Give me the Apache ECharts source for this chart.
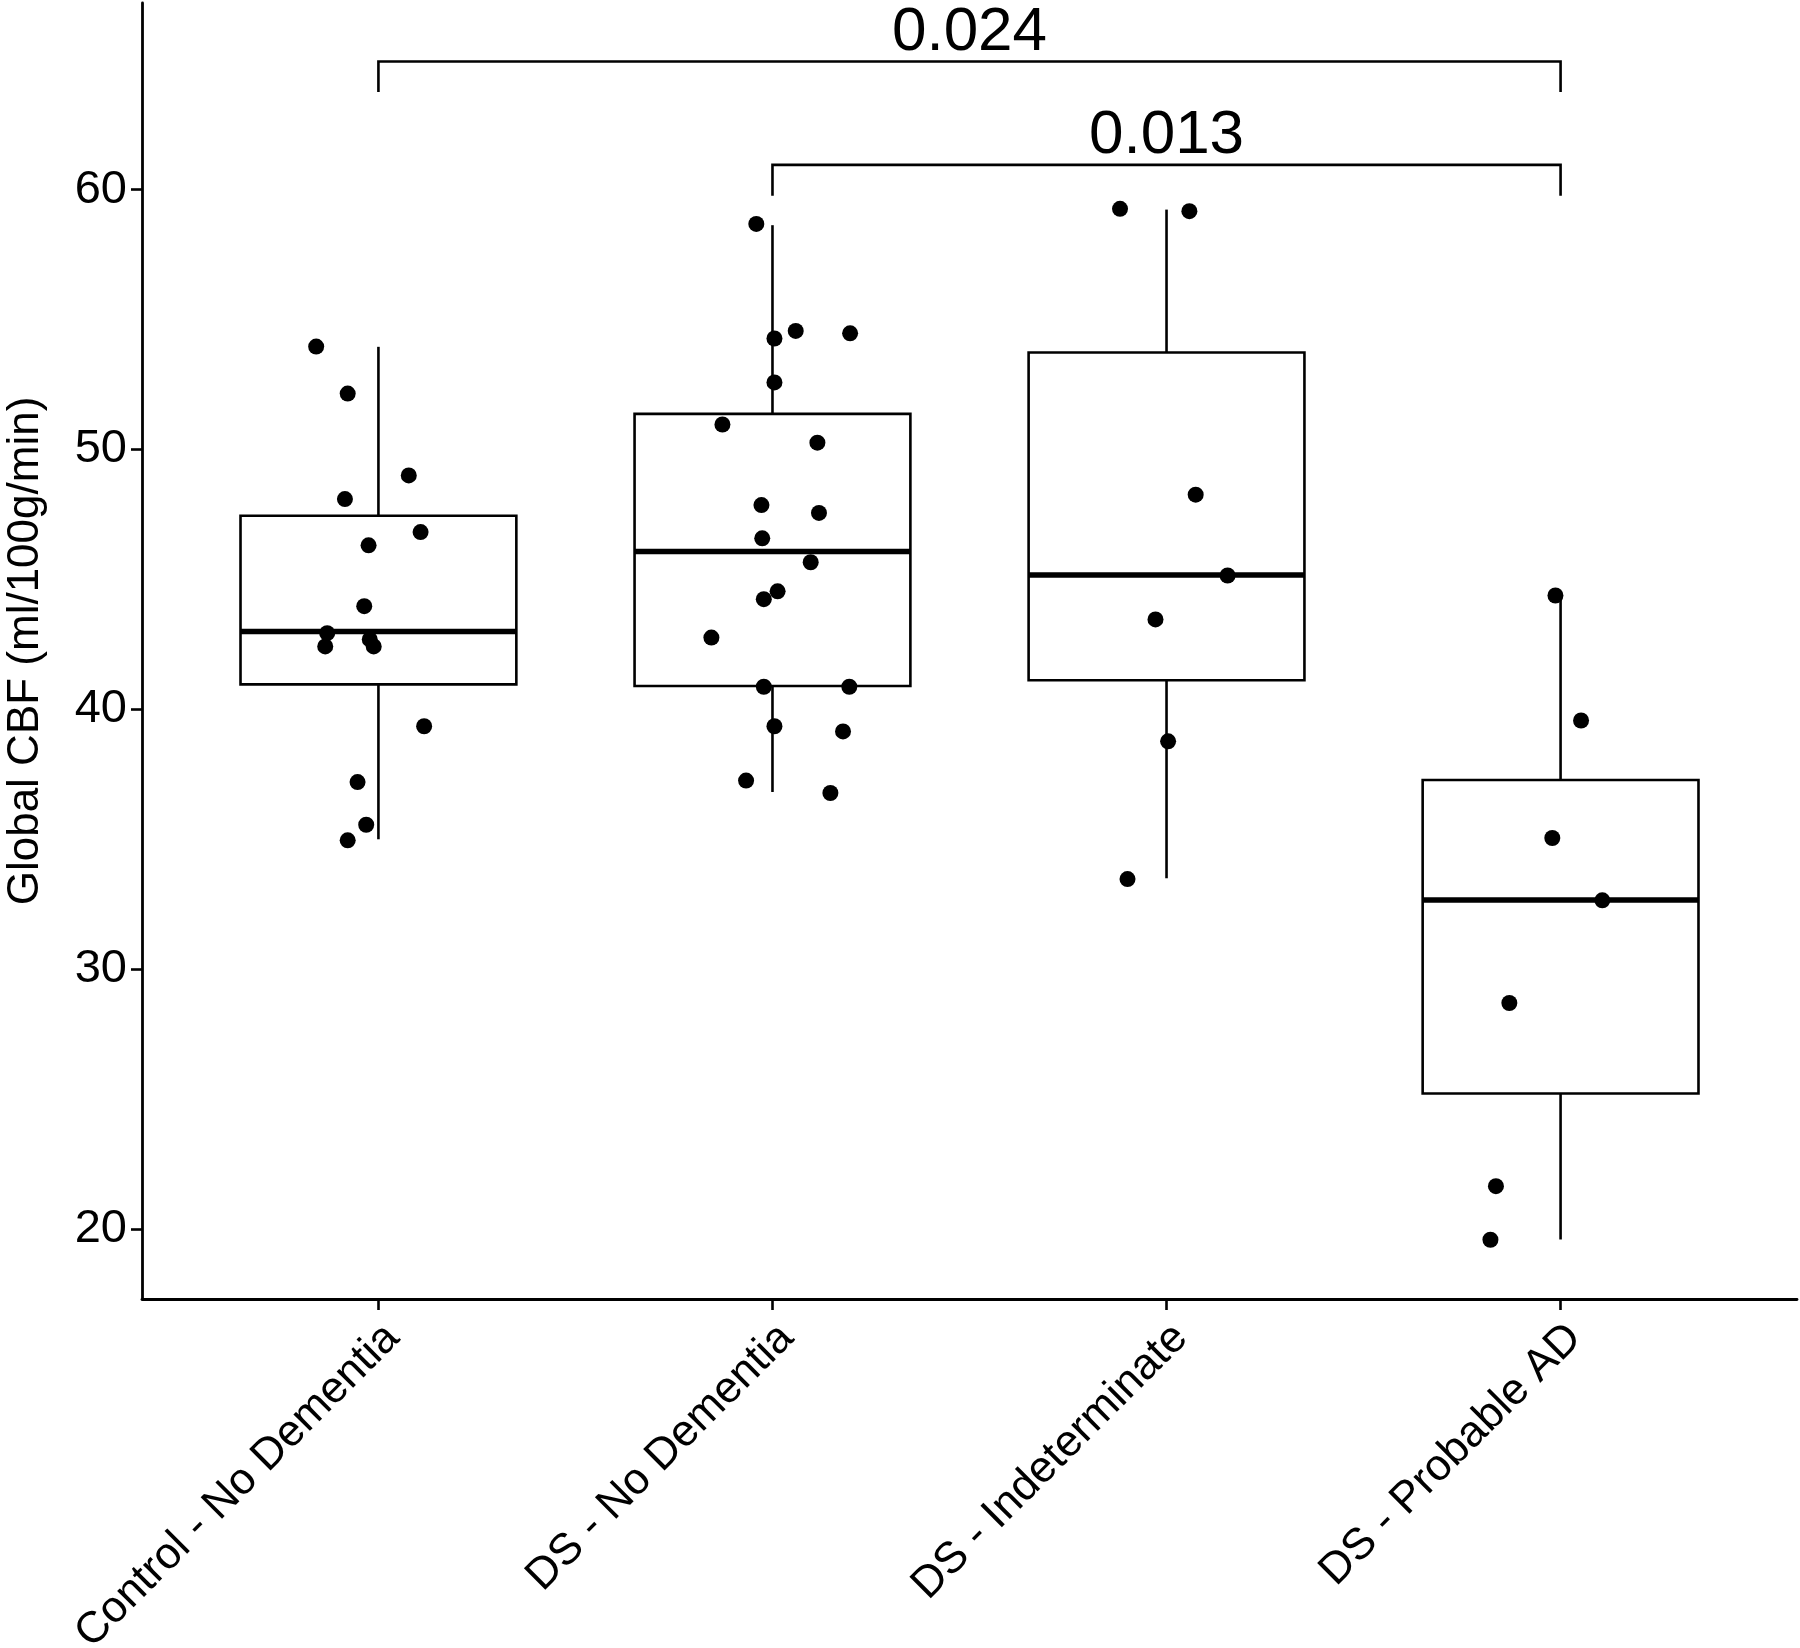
<!DOCTYPE html>
<html><head><meta charset="utf-8">
<script src="https://cdn.jsdelivr.net/npm/echarts@6/dist/echarts.min.js"></script>
<style>html,body{margin:0;padding:0;background:#fff}#c{width:1800px;height:1648px}</style>
</head><body><div id="c"></div>
<script>
// ---------- data ----------
const categories = ['Control - No Dementia', 'DS - No Dementia', 'DS - Indeterminate', 'DS - Probable AD'];
const yTicks = [20, 30, 40, 50, 60];
const yTitle = 'Global CBF (ml/100g/min)';

// box statistics per group: [lower whisker, Q1, median, Q3, upper whisker]
const boxControl = [35.0, 40.96, 43.0, 47.45, 53.95];
const boxDSNoDem = [36.82, 40.9, 46.07, 51.37, 58.63];
const boxDSIndet = [33.5, 41.12, 45.17, 53.73, 59.23];
const boxDSProbAD = [19.6, 25.22, 32.66, 37.28, 44.38];

// jittered points per group: [horizontal jitter offset (category units), CBF]
const ptsControl = [
  [-0.158, 53.96], [-0.078, 52.15], [0.077, 49.0], [-0.085, 48.09], [0.107, 46.82],
  [-0.025, 46.31], [-0.036, 43.97], [-0.130, 42.93], [-0.135, 42.42], [-0.022, 42.69],
  [-0.012, 42.42], [0.116, 39.35], [-0.053, 37.2], [-0.031, 35.56], [-0.078, 34.96]
];
const ptsDSNoDem = [
  [-0.041, 58.68], [0.005, 54.27], [0.059, 54.56], [0.197, 54.47], [0.005, 52.58],
  [-0.127, 50.96], [0.114, 50.26], [-0.028, 47.86], [0.118, 47.56], [-0.026, 46.58],
  [0.097, 45.66], [0.013, 44.54], [-0.022, 44.24], [-0.155, 42.76], [-0.022, 40.87],
  [0.195, 40.87], [0.005, 39.35], [0.179, 39.15], [-0.067, 37.26], [0.147, 36.78]
];
const ptsDSIndet = [
  [-0.118, 59.26], [0.058, 59.17], [0.074, 48.26], [0.155, 45.15], [-0.028, 43.46],
  [0.004, 38.77], [-0.099, 33.47]
];
const ptsDSProbAD = [
  [-0.013, 44.38], [0.052, 39.57], [-0.021, 35.05], [0.106, 32.65], [-0.130, 28.70],
  [-0.164, 21.65], [-0.178, 19.59]
];

// significance brackets
const bracketFrom = [0, 1];
const bracketTo = [3, 3];
const bracketY = [64.93, 60.95];
const bracketLegY = [63.76, 59.76];
const bracketLabels = ['0.024', '0.013'];

// ---------- build ----------
const boxes = [boxControl, boxDSNoDem, boxDSIndet, boxDSProbAD];
const points = [ptsControl, ptsDSNoDem, ptsDSIndet, ptsDSProbAD];
const FONT = 'Liberation Sans, Arial, sans-serif';
const LW = 2.6;

const boxData = boxes.map((b, i) => [i].concat(b));
const pointData = [];
points.forEach((g, i) => g.forEach(p => pointData.push([i + p[0], p[1]])));
const bracketData = bracketFrom.map((f, i) => [f, bracketTo[i], bracketY[i], bracketLegY[i]]);

function renderBox(params, api) {
  const x = api.value(0);
  const pLo = api.coord([x, api.value(1)]);
  const pQ1 = api.coord([x, api.value(2)]);
  const pMed = api.coord([x, api.value(3)]);
  const pQ3 = api.coord([x, api.value(4)]);
  const pHi = api.coord([x, api.value(5)]);
  const hw = api.size([0.7, 0])[0] / 2;
  const ls = { stroke: '#000', lineWidth: LW };
  return {
    type: 'group',
    children: [
      { type: 'line', shape: { x1: pQ3[0], y1: pQ3[1], x2: pHi[0], y2: pHi[1] }, style: ls },
      { type: 'line', shape: { x1: pQ1[0], y1: pQ1[1], x2: pLo[0], y2: pLo[1] }, style: ls },
      { type: 'rect', shape: { x: pQ3[0] - hw, y: pQ3[1], width: 2 * hw, height: pQ1[1] - pQ3[1] },
        style: { fill: '#fff', stroke: '#000', lineWidth: LW } },
      { type: 'line', shape: { x1: pMed[0] - hw, y1: pMed[1], x2: pMed[0] + hw, y2: pMed[1] },
        style: { stroke: '#000', lineWidth: 5.5 } }
    ]
  };
}

function renderBracket(params, api) {
  const a = api.coord([api.value(0), api.value(2)]);
  const b = api.coord([api.value(1), api.value(2)]);
  const aLow = api.coord([api.value(0), api.value(3)]);
  const bLow = api.coord([api.value(1), api.value(3)]);
  return {
    type: 'group',
    children: [
      { type: 'polyline', shape: { points: [aLow, a, b, bLow] },
        style: { stroke: '#000', lineWidth: LW, fill: null } },
      { type: 'text', x: (a[0] + b[0]) / 2, y: a[1] + 2,
        style: { text: bracketLabels[params.dataIndex], fill: '#000', font: '62px ' + FONT,
          textAlign: 'center', textVerticalAlign: 'bottom' } }
    ]
  };
}

const chart = echarts.init(document.getElementById('c'), null, { renderer: 'canvas' });
chart.setOption({
  backgroundColor: '#fff',
  animation: false,
  grid: { left: 142, right: 3, top: 3, bottom: 349, containLabel: false, outerBoundsMode: 'none' },
  xAxis: {
    type: 'value', min: -0.6, max: 3.6,
    splitLine: { show: false },
    axisLine: { show: true, onZero: false, lineStyle: { color: '#000', width: 2.8 } },
    axisTick: { show: true, customValues: [0, 1, 2, 3], length: 11, lineStyle: { color: '#000', width: LW } },
    axisLabel: {
      customValues: [0, 1, 2, 3], rotate: 45, margin: 18,
      align: 'right', verticalAlign: 'top', lineHeight: 40,
      formatter: v => categories[Math.round(v)],
      fontSize: 44, fontFamily: FONT, color: '#000'
    }
  },
  yAxis: {
    type: 'value', min: 17.31, max: 67.18,
    name: yTitle, nameLocation: 'middle', nameRotate: 90, nameGap: 94,
    nameTextStyle: { fontSize: 44, fontFamily: FONT, color: '#000' },
    splitLine: { show: false },
    axisLine: { show: true, onZero: false, lineStyle: { color: '#000', width: 2.8 } },
    axisTick: { show: true, customValues: yTicks, length: 11, lineStyle: { color: '#000', width: LW } },
    axisLabel: { customValues: yTicks, margin: 15, fontSize: 47, fontFamily: FONT, color: '#000' }
  },
  series: [
    { type: 'custom', renderItem: renderBox, data: boxData, z: 2, clip: false,
      encode: { x: 0, y: [1, 2, 3, 4, 5] } },
    { type: 'scatter', data: pointData, symbol: 'circle', symbolSize: 16, z: 5,
      itemStyle: { color: '#000', opacity: 1 } },
    { type: 'custom', renderItem: renderBracket, data: bracketData, z: 3, clip: false,
      encode: { x: [0, 1], y: [2, 3] } }
  ]
});
</script></body></html>
